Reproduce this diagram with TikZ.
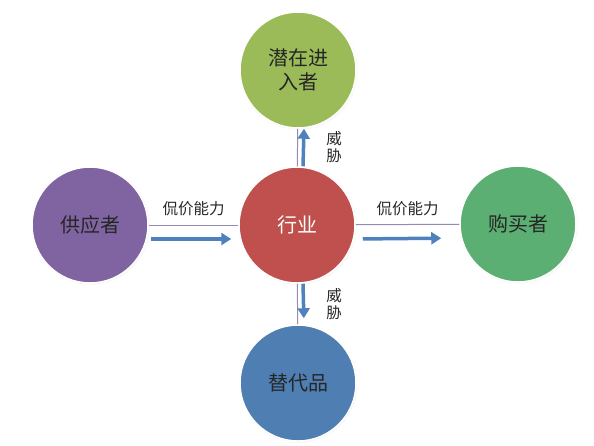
\documentclass[tikz,border=0pt]{standalone}
\usepackage{fontspec}
\newfontfamily\cjk{Noto Sans CJK SC}
\usetikzlibrary{arrows.meta,shadows}
\definecolor{entgreen}{HTML}{9BBB59}
\definecolor{indred}{HTML}{C0504D}
\definecolor{subblue}{HTML}{4E7EB2}
\definecolor{suppurple}{HTML}{8064A2}
\definecolor{buygreen}{HTML}{5CAF72}
\definecolor{linkgray}{HTML}{948CB4}
\definecolor{pushblue}{HTML}{4F81BD}
\tikzstyle{force}=[circle, minimum size=116pt, inner sep=0pt, align=center,
  draw=white, line width=1.5pt, text=black!85,
  font=\cjk\fontsize{20}{24}\selectfont,
  circular drop shadow={opacity=0.25, shadow xshift=0.6pt, shadow yshift=-0.6pt, shadow scale=1.03}]
\tikzstyle{link}=[draw=linkgray, line width=1pt]
\tikzstyle{push}=[draw=pushblue, line width=3.5pt, -{Triangle[length=10pt,width=12pt]}]
\tikzstyle{powerlbl}=[font=\cjk\fontsize{15.5}{17}\selectfont, text=black!85]
\tikzstyle{threatlbl}=[font=\cjk\fontsize{15.5}{17}\selectfont, text=black!85, align=center]

\begin{document}
\begin{tikzpicture}[x=1pt,y=-1pt]
  \useasboundingbox (0,0) rectangle (594,445);
  % five forces
  \node[force, fill=entgreen] (entrant) at (298,70) {潜在进\\入者};
  \node[force, fill=indred, text=white] (industry) at (297,225) {行业};
  \node[force, fill=subblue] (substitute) at (298,383) {替代品};
  \node[force, fill=suppurple] (supplier) at (90,225) {供应者};
  \node[force, fill=buygreen] (buyer) at (518,224) {购买者};
  % thin links
  \draw[link] (supplier) -- node[powerlbl, above=5pt] {侃价能力} (industry);
  \draw[link] (industry) -- node[powerlbl, above=5pt] {侃价能力} (buyer);
  \draw[link] (industry) -- node[threatlbl, right=25pt] {威\\胁} (entrant);
  \draw[link] (industry) -- node[threatlbl, right=25pt] {威\\胁} (substitute);
  % blue arrows
  \draw[push, shorten <=2pt, shorten >=7pt] ([yshift=-14pt]supplier.east) -- ([yshift=-14pt]industry.west);
  \draw[push, shorten <=7pt, shorten >=18pt] ([yshift=-14pt]industry.east) -- ([yshift=-14pt]buyer.west);
  \draw[push] ([xshift=6pt]industry.north) -- ([xshift=6pt]entrant.south);
  \draw[push, shorten >=6pt] ([xshift=6pt]industry.south) -- ([xshift=6pt]substitute.north);
\end{tikzpicture}
\end{document}
